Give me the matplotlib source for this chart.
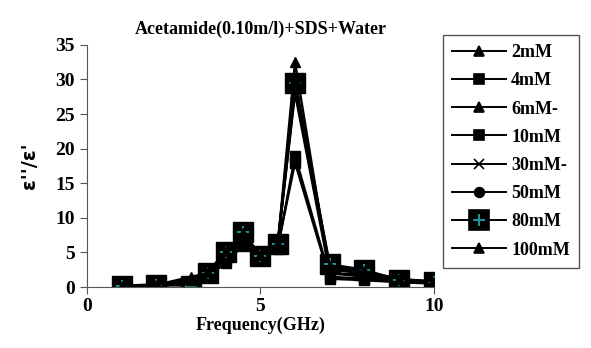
import matplotlib
matplotlib.use("Agg")
import matplotlib.pyplot as plt
from matplotlib.lines import Line2D
from matplotlib.legend_handler import HandlerTuple

plt.rcParams['font.family'] = ['Liberation Serif', 'DejaVu Serif']
plt.rcParams['font.weight'] = 'bold'

freq = [1, 2, 3, 3.5, 4, 4.5, 5, 5.5, 6, 7, 8, 9, 10]
labels = ['2mM', '4mM', '6mM-', '10mM', '30mM-', '50mM', '80mM', '100mM']
s2 = [0.2, 0.3, 1.5, 2.0, 4.5, 7.0, 4.3, 6.0, 32.5, 2.0, 1.5, 1.0, 0.8]
s4 = [0.1, 0.2, 0.5, 1.8, 4.0, 6.5, 4.0, 5.5, 19.0, 1.5, 1.2, 0.8, 0.6]
s6 = [0.2, 0.4, 1.2, 2.2, 5.0, 7.5, 4.5, 6.2, 29.0, 2.5, 2.0, 1.1, 0.8]
s10 = [0.1, 0.2, 0.4, 1.5, 3.5, 6.0, 4.0, 5.8, 18.0, 1.2, 1.0, 0.7, 0.5]
s30 = [0.2, 0.3, 0.8, 2.0, 4.8, 7.2, 4.4, 6.0, 28.0, 2.0, 1.8, 1.0, 0.7]
s50 = [0.2, 0.3, 0.9, 2.1, 5.0, 7.6, 4.5, 6.1, 28.5, 2.8, 2.2, 1.1, 0.8]
s80 = [0.2, 0.3, 0.2, 2.0, 5.0, 8.0, 4.5, 6.2, 29.5, 3.3, 2.5, 1.0, 0.7]
s100 = [0.2, 0.3, 1.0, 2.2, 5.2, 7.8, 4.6, 6.3, 30.0, 3.0, 2.3, 1.2, 0.8]

series = [s2, s4, s6, s10, s30, s50, s80, s100]
markers = ['^', 's', '^', 's', 'x', 'o', 's', '^']
msizes = [7, 7, 7, 7, 7, 7, 14, 7]

fig = plt.figure(figsize=(5.91, 3.48), dpi=100)
ax = fig.add_axes([0.147, 0.175, 0.587, 0.696])

handles = []
for ys, m, ms, lab in zip(series, markers, msizes, labels):
    ax.plot(freq, ys, color='black', lw=1.7, marker=m, ms=ms, mfc='black', mec='black')
    h = Line2D([], [], color='black', lw=1.4, marker=m, ms=ms, mfc='black', mec='black', mew=1.2)
    if lab == '80mM':
        # cyan cross on the black square
        ax.plot(freq, ys, ls='none', marker='+', ms=9, mew=1.4, color='#1a9a9a')
        cross = Line2D([], [], ls='none', marker='+', ms=9, mew=1.4, color='#1a9a9a')
        h = (h, cross)
    handles.append(h)

ax.set_xlim(0, 10)
ax.set_ylim(0, 35)
ax.set_xticks([0, 5, 10])
ax.set_yticks(range(0, 36, 5))
ax.spines['top'].set_visible(False)
ax.spines['right'].set_visible(False)
ax.spines['left'].set_color('#555555')
ax.spines['bottom'].set_color('#555555')
ax.tick_params(axis='both', labelsize=14, length=5, color='#555555')
ax.tick_params(axis='x', pad=3)

ax.set_title('Acetamide(0.10m/l)+SDS+Water', fontsize=13, fontweight='bold', pad=8)
ax.set_xlabel('Frequency(GHz)', fontsize=13, fontweight='bold', labelpad=1)
ax.set_ylabel("ε''/ε'", fontsize=14, fontweight='bold', family='DejaVu Sans', labelpad=12)

leg = fig.legend(handles, labels, loc='upper right', bbox_to_anchor=(0.995, 0.925),
                 prop={'size': 13, 'weight': 'bold'}, handlelength=3.0, fancybox=False,
                 edgecolor='#555555', framealpha=1, labelspacing=0.62, borderpad=0.5,
                 handletextpad=0.3, handler_map={tuple: HandlerTuple(ndivide=1)})
leg.get_frame().set_linewidth(1.0)

fig.savefig('out.png', dpi=100)
